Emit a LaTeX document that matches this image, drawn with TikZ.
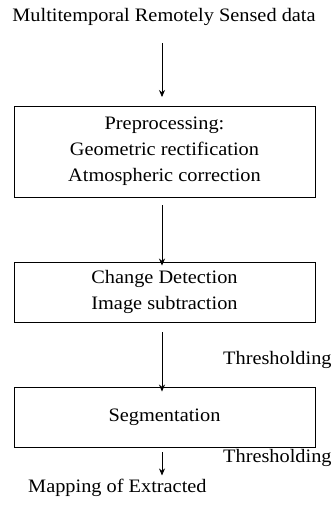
\documentclass[tikz,border=0pt]{standalone}
\usepackage{fontspec}
\setmainfont{Liberation Serif}[FakeStretch=1.07]
\usetikzlibrary{arrows.meta}
\begin{document}
\begin{tikzpicture}[x=1pt,y=-1pt,
  every node/.style={font=\fontsize{19}{26}\selectfont, inner sep=0pt, align=center},
  procbox/.style={draw, line width=0.9pt, minimum width=301pt},
  flow/.style={-{Stealth[length=7pt,width=6pt]}, line width=0.8pt}]
\useasboundingbox (0,0) rectangle (336,512);
\node (src) at (164,17) {Multitemporal Remotely Sensed data};
\node[procbox, minimum height=91pt] (pre) at (164.5,151.5) {Preprocessing:\\Geometric rectification\\Atmospheric correction};
\node[procbox, minimum height=60pt] (cd) at (164.5,292) {Change Detection\\Image subtraction};
\node[procbox, minimum height=60pt] (seg) at (164.5,417) {Segmentation};
\node[anchor=west] (th1) at (223,360) {Thresholding};
\node[anchor=west] (th2) at (223,458) {Thresholding};
\node[anchor=west] (map) at (28,488) {Mapping of Extracted};
\coordinate (a1s) at (162,43);
\coordinate (a1e) at (162,97);
\draw[flow] (a1s) -- (a1e);
\draw[flow] ([yshift=-8pt]pre.south -| a1s) -- ([yshift=-4pt]cd.north -| a1s);
\draw[flow] ([yshift=-10pt]cd.south -| a1s) -- ([yshift=-5pt]seg.north -| a1s);
\draw[flow] ([yshift=-5pt]seg.south -| a1s) -- ([yshift=-28pt]seg.south -| a1s);
\end{tikzpicture}
\end{document}
